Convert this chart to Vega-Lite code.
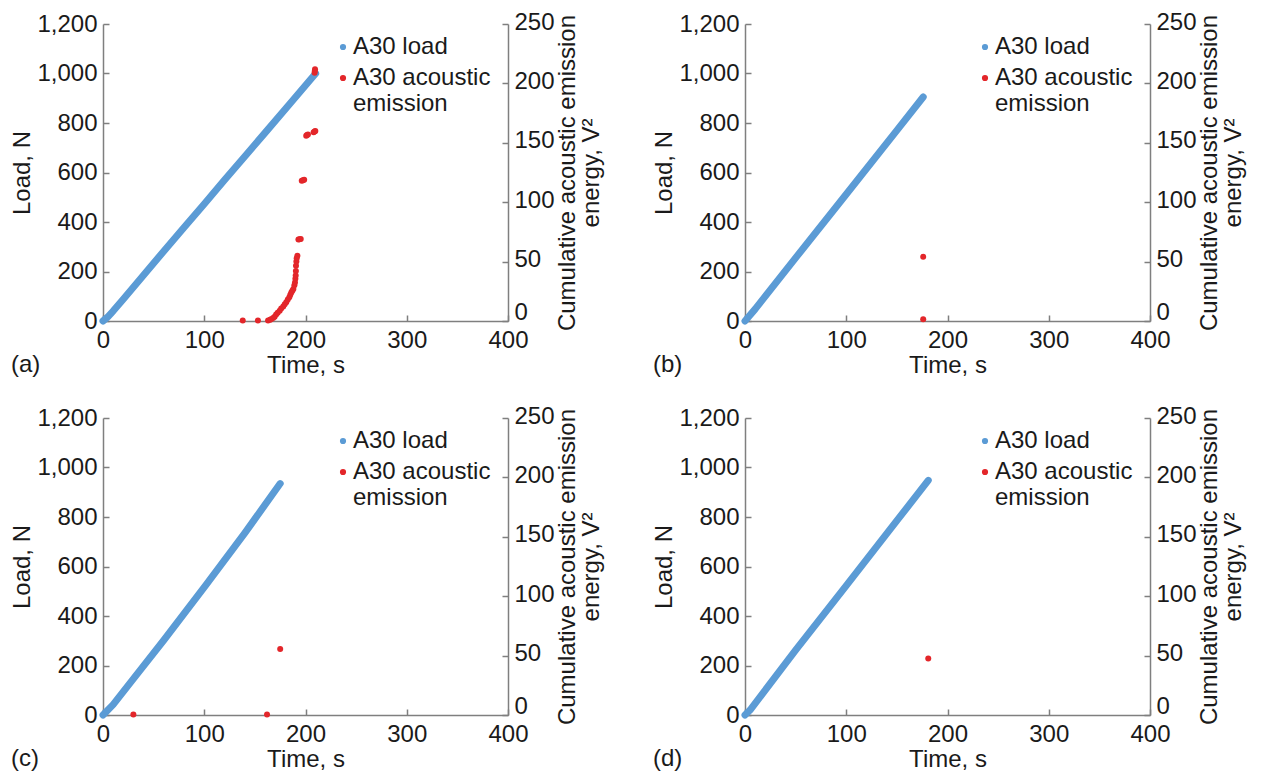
{
  "$schema": "https://vega.github.io/schema/vega-lite/v6.json",
  "background": "white",
  "padding": {"left": 10, "top": 10, "right": 5, "bottom": 0},
  "config": {
    "font": "Liberation Sans",
    "view": {"stroke": null},
    "axis": {
      "labelFont": "Liberation Sans", "titleFont": "Liberation Sans",
      "labelFontSize": 24, "titleFontSize": 24,
      "labelColor": "#1a1a1a", "titleColor": "#1a1a1a", "titleFontWeight": "normal",
      "domainColor": "#7f7f7f", "tickColor": "#7f7f7f", "domainWidth": 1.5, "tickWidth": 1.5,
      "tickSize": -6, "grid": false, "labelPadding": 12, "labelFlush": false
    },
    "axisX": {"labelPadding": 13},
    "legend": {
      "labelFont": "Liberation Sans", "labelFontSize": 24, "labelColor": "#1a1a1a",
      "symbolType": "circle", "symbolSize": 22, "padding": 0, "rowPadding": 7, "labelOffset": -2
    },
    "title": {"font": "Liberation Sans", "fontSize": 24, "fontWeight": "normal", "color": "#1a1a1a"}
  },
  "datasets": {
    "load": [
      {"panel": "a", "t": 0, "load": 0}, {"panel": "a", "t": 5, "load": 18}, {"panel": "a", "t": 10, "load": 40},
      {"panel": "a", "t": 20, "load": 88}, {"panel": "a", "t": 40, "load": 185}, {"panel": "a", "t": 60, "load": 282},
      {"panel": "a", "t": 80, "load": 378}, {"panel": "a", "t": 100, "load": 473}, {"panel": "a", "t": 120, "load": 570},
      {"panel": "a", "t": 140, "load": 665}, {"panel": "a", "t": 160, "load": 760}, {"panel": "a", "t": 185, "load": 880},
      {"panel": "a", "t": 210, "load": 1000},
      {"panel": "b", "t": 0, "load": 0}, {"panel": "b", "t": 10, "load": 48}, {"panel": "b", "t": 50, "load": 255},
      {"panel": "b", "t": 100, "load": 512}, {"panel": "b", "t": 150, "load": 770}, {"panel": "b", "t": 176, "load": 905},
      {"panel": "c", "t": 0, "load": 0}, {"panel": "c", "t": 10, "load": 42}, {"panel": "c", "t": 28.6, "load": 139},
      {"panel": "c", "t": 60, "load": 302}, {"panel": "c", "t": 101, "load": 522}, {"panel": "c", "t": 140, "load": 735},
      {"panel": "c", "t": 175, "load": 935},
      {"panel": "d", "t": 0, "load": 0}, {"panel": "d", "t": 5, "load": 20}, {"panel": "d", "t": 50, "load": 262},
      {"panel": "d", "t": 100, "load": 523}, {"panel": "d", "t": 150, "load": 785}, {"panel": "d", "t": 181, "load": 948}
    ],
    "ae": [
      {"panel": "a", "t": 138, "e": 0.5}, {"panel": "a", "t": 153, "e": 0.5}, {"panel": "a", "t": 163, "e": 0.5},
      {"panel": "a", "t": 165, "e": 1}, {"panel": "a", "t": 166, "e": 1.5}, {"panel": "a", "t": 168, "e": 2.5},
      {"panel": "a", "t": 169.5, "e": 3.5}, {"panel": "a", "t": 171, "e": 5.5}, {"panel": "a", "t": 172.5, "e": 7},
      {"panel": "a", "t": 174.5, "e": 8.7}, {"panel": "a", "t": 176, "e": 10.5}, {"panel": "a", "t": 178, "e": 12.3},
      {"panel": "a", "t": 179.5, "e": 14}, {"panel": "a", "t": 181, "e": 15.7}, {"panel": "a", "t": 182.5, "e": 18},
      {"panel": "a", "t": 184, "e": 20}, {"panel": "a", "t": 185, "e": 22}, {"panel": "a", "t": 186, "e": 24},
      {"panel": "a", "t": 187, "e": 25.5}, {"panel": "a", "t": 188, "e": 27}, {"panel": "a", "t": 189, "e": 30},
      {"panel": "a", "t": 189.6, "e": 32.5}, {"panel": "a", "t": 190, "e": 35.5}, {"panel": "a", "t": 190.3, "e": 38.2},
      {"panel": "a", "t": 190.5, "e": 42}, {"panel": "a", "t": 190.6, "e": 46.6}, {"panel": "a", "t": 191, "e": 50},
      {"panel": "a", "t": 191.3, "e": 52.8}, {"panel": "a", "t": 192, "e": 55}, {"panel": "a", "t": 193, "e": 68.5},
      {"panel": "a", "t": 194, "e": 68.8}, {"panel": "a", "t": 195.3, "e": 69}, {"panel": "a", "t": 196.3, "e": 118},
      {"panel": "a", "t": 197.5, "e": 118.5}, {"panel": "a", "t": 198.7, "e": 119}, {"panel": "a", "t": 200.7, "e": 156},
      {"panel": "a", "t": 201.5, "e": 156.5}, {"panel": "a", "t": 202.4, "e": 157}, {"panel": "a", "t": 208, "e": 158.8},
      {"panel": "a", "t": 209, "e": 159.5}, {"panel": "a", "t": 209.7, "e": 160}, {"panel": "a", "t": 209, "e": 209},
      {"panel": "a", "t": 209.2, "e": 210.5}, {"panel": "a", "t": 209.4, "e": 212},
      {"panel": "b", "t": 176, "e": 54}, {"panel": "b", "t": 176, "e": 1.5},
      {"panel": "c", "t": 30, "e": 0.5}, {"panel": "c", "t": 162, "e": 0.5}, {"panel": "c", "t": 175, "e": 55.5},
      {"panel": "d", "t": 181, "e": 47.5}
    ]
  },
  "columns": 2,
  "bounds": "flush",
  "spacing": {"column": 237, "row": 97},
  "concat": [
    {
      "width": 405, "height": 297,
      "title": {"text": "(a)", "orient": "bottom", "anchor": "start", "frame": "bounds", "offset": -24},
      "encoding": {"x": {"field": "t", "type": "quantitative", "scale": {"domain": [0, 400], "nice": false}, "axis": {"title": "Time, s", "values": [0, 100, 200, 300, 400], "titlePadding": 1}}},
      "layer": [
        {"data": {"name": "load"}, "transform": [{"filter": "datum.panel == 'a'"}],
         "mark": {"type": "line", "strokeWidth": 7, "strokeCap": "round", "strokeJoin": "round", "opacity": 1},
         "encoding": {
           "y": {"field": "load", "type": "quantitative", "scale": {"domain": [0, 1200], "nice": false}, "axis": {"title": "Load, N", "format": ",.0f", "values": [0, 200, 400, 600, 800, 1000, 1200], "titlePadding": 2}},
           "color": {"datum": "A30 load", "type": "nominal", "scale": {"domain": ["A30 load", "A30 acoustic emission"], "range": ["#5b9bd5", "#e3262a"]},
             "legend": {"title": null, "orient": "none", "legendX": 228, "legendY": 11, "labelExpr": "datum.label == 'A30 acoustic emission' ? ['A30 acoustic', 'emission'] : datum.label",
               "encode": {"symbols": {"update": {"fill": {"signal": "datum.value == 'A30 load' ? '#5b9bd5' : '#e3262a'"}, "stroke": {"value": "transparent"}}}}}}
         }},
        {"data": {"name": "ae"}, "transform": [{"filter": "datum.panel == 'a'"}],
         "mark": {"type": "circle", "size": 36, "opacity": 1},
         "encoding": {
           "y": {"field": "e", "type": "quantitative", "scale": {"domain": [0, 250], "nice": false}, "axis": {"orient": "right", "labelOffset": {"condition": {"test": "datum.value == 0", "value": -9}, "value": -2}, "title": ["Cumulative acoustic emission", "energy, V²"], "titleAngle": -90, "titleBaseline": "top", "titleLineHeight": 24, "titlePadding": -23, "values": [0, 50, 100, 150, 200, 250]}},
           "color": {"datum": "A30 acoustic emission", "type": "nominal"}
         }}
      ],
      "resolve": {"scale": {"y": "independent"}}
    },
    {
      "width": 405, "height": 297,
      "title": {"text": "(b)", "orient": "bottom", "anchor": "start", "frame": "bounds", "offset": -24},
      "encoding": {"x": {"field": "t", "type": "quantitative", "scale": {"domain": [0, 400], "nice": false}, "axis": {"title": "Time, s", "values": [0, 100, 200, 300, 400], "titlePadding": 1}}},
      "layer": [
        {"data": {"name": "load"}, "transform": [{"filter": "datum.panel == 'b'"}],
         "mark": {"type": "line", "strokeWidth": 7, "strokeCap": "round", "strokeJoin": "round", "opacity": 1},
         "encoding": {
           "y": {"field": "load", "type": "quantitative", "scale": {"domain": [0, 1200], "nice": false}, "axis": {"title": "Load, N", "format": ",.0f", "values": [0, 200, 400, 600, 800, 1000, 1200], "titlePadding": 2}},
           "color": {"datum": "A30 load", "type": "nominal", "scale": {"domain": ["A30 load", "A30 acoustic emission"], "range": ["#5b9bd5", "#e3262a"]},
             "legend": {"title": null, "orient": "none", "legendX": 228, "legendY": 11, "labelExpr": "datum.label == 'A30 acoustic emission' ? ['A30 acoustic', 'emission'] : datum.label",
               "encode": {"symbols": {"update": {"fill": {"signal": "datum.value == 'A30 load' ? '#5b9bd5' : '#e3262a'"}, "stroke": {"value": "transparent"}}}}}}
         }},
        {"data": {"name": "ae"}, "transform": [{"filter": "datum.panel == 'b'"}],
         "mark": {"type": "circle", "size": 36, "opacity": 1},
         "encoding": {
           "y": {"field": "e", "type": "quantitative", "scale": {"domain": [0, 250], "nice": false}, "axis": {"orient": "right", "labelOffset": {"condition": {"test": "datum.value == 0", "value": -9}, "value": -2}, "title": ["Cumulative acoustic emission", "energy, V²"], "titleAngle": -90, "titleBaseline": "top", "titleLineHeight": 24, "titlePadding": -23, "values": [0, 50, 100, 150, 200, 250]}},
           "color": {"datum": "A30 acoustic emission", "type": "nominal"}
         }}
      ],
      "resolve": {"scale": {"y": "independent"}}
    },
    {
      "width": 405, "height": 297,
      "title": {"text": "(c)", "orient": "bottom", "anchor": "start", "frame": "bounds", "offset": -24},
      "encoding": {"x": {"field": "t", "type": "quantitative", "scale": {"domain": [0, 400], "nice": false}, "axis": {"title": "Time, s", "values": [0, 100, 200, 300, 400], "titlePadding": 1}}},
      "layer": [
        {"data": {"name": "load"}, "transform": [{"filter": "datum.panel == 'c'"}],
         "mark": {"type": "line", "strokeWidth": 7, "strokeCap": "round", "strokeJoin": "round", "opacity": 1},
         "encoding": {
           "y": {"field": "load", "type": "quantitative", "scale": {"domain": [0, 1200], "nice": false}, "axis": {"title": "Load, N", "format": ",.0f", "values": [0, 200, 400, 600, 800, 1000, 1200], "titlePadding": 2}},
           "color": {"datum": "A30 load", "type": "nominal", "scale": {"domain": ["A30 load", "A30 acoustic emission"], "range": ["#5b9bd5", "#e3262a"]},
             "legend": {"title": null, "orient": "none", "legendX": 228, "legendY": 11, "labelExpr": "datum.label == 'A30 acoustic emission' ? ['A30 acoustic', 'emission'] : datum.label",
               "encode": {"symbols": {"update": {"fill": {"signal": "datum.value == 'A30 load' ? '#5b9bd5' : '#e3262a'"}, "stroke": {"value": "transparent"}}}}}}
         }},
        {"data": {"name": "ae"}, "transform": [{"filter": "datum.panel == 'c'"}],
         "mark": {"type": "circle", "size": 36, "opacity": 1},
         "encoding": {
           "y": {"field": "e", "type": "quantitative", "scale": {"domain": [0, 250], "nice": false}, "axis": {"orient": "right", "labelOffset": {"condition": {"test": "datum.value == 0", "value": -9}, "value": -2}, "title": ["Cumulative acoustic emission", "energy, V²"], "titleAngle": -90, "titleBaseline": "top", "titleLineHeight": 24, "titlePadding": -23, "values": [0, 50, 100, 150, 200, 250]}},
           "color": {"datum": "A30 acoustic emission", "type": "nominal"}
         }}
      ],
      "resolve": {"scale": {"y": "independent"}}
    },
    {
      "width": 405, "height": 297,
      "title": {"text": "(d)", "orient": "bottom", "anchor": "start", "frame": "bounds", "offset": -24},
      "encoding": {"x": {"field": "t", "type": "quantitative", "scale": {"domain": [0, 400], "nice": false}, "axis": {"title": "Time, s", "values": [0, 100, 200, 300, 400], "titlePadding": 1}}},
      "layer": [
        {"data": {"name": "load"}, "transform": [{"filter": "datum.panel == 'd'"}],
         "mark": {"type": "line", "strokeWidth": 7, "strokeCap": "round", "strokeJoin": "round", "opacity": 1},
         "encoding": {
           "y": {"field": "load", "type": "quantitative", "scale": {"domain": [0, 1200], "nice": false}, "axis": {"title": "Load, N", "format": ",.0f", "values": [0, 200, 400, 600, 800, 1000, 1200], "titlePadding": 2}},
           "color": {"datum": "A30 load", "type": "nominal", "scale": {"domain": ["A30 load", "A30 acoustic emission"], "range": ["#5b9bd5", "#e3262a"]},
             "legend": {"title": null, "orient": "none", "legendX": 228, "legendY": 11, "labelExpr": "datum.label == 'A30 acoustic emission' ? ['A30 acoustic', 'emission'] : datum.label",
               "encode": {"symbols": {"update": {"fill": {"signal": "datum.value == 'A30 load' ? '#5b9bd5' : '#e3262a'"}, "stroke": {"value": "transparent"}}}}}}
         }},
        {"data": {"name": "ae"}, "transform": [{"filter": "datum.panel == 'd'"}],
         "mark": {"type": "circle", "size": 36, "opacity": 1},
         "encoding": {
           "y": {"field": "e", "type": "quantitative", "scale": {"domain": [0, 250], "nice": false}, "axis": {"orient": "right", "labelOffset": {"condition": {"test": "datum.value == 0", "value": -9}, "value": -2}, "title": ["Cumulative acoustic emission", "energy, V²"], "titleAngle": -90, "titleBaseline": "top", "titleLineHeight": 24, "titlePadding": -23, "values": [0, 50, 100, 150, 200, 250]}},
           "color": {"datum": "A30 acoustic emission", "type": "nominal"}
         }}
      ],
      "resolve": {"scale": {"y": "independent"}}
    }
  ],
  "resolve": {"scale": {"color": "independent"}, "legend": {"color": "independent"}}
}
